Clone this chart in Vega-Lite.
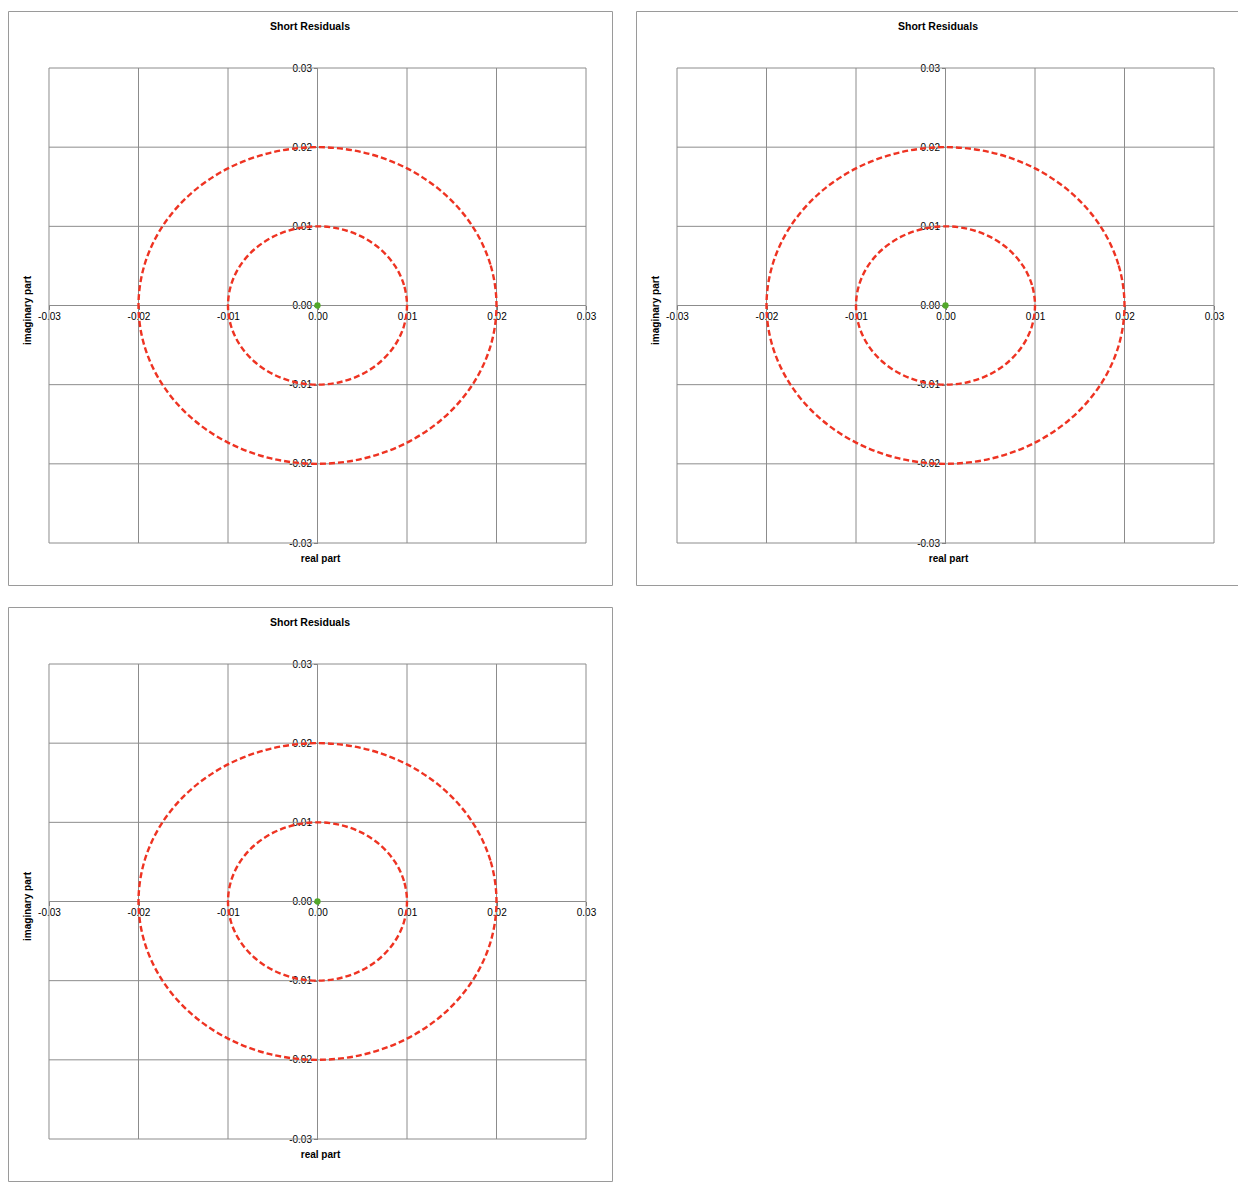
{
  "$schema": "https://vega.github.io/schema/vega-lite/v6.json",
  "padding": {"left": 7, "top": 10, "right": 0, "bottom": 0},
  "background": "white",
  "datasets": {
    "grid": [{"v": -0.03}, {"v": -0.02}, {"v": -0.01}, {"v": 0}, {"v": 0.01}, {"v": 0.02}, {"v": 0.03}],
    "origin": [{"re": 0, "im": 0}],
    "circles": [
      {"c": "inner", "i": 0, "re": 0.01, "im": 0},
      {"c": "inner", "i": 1, "re": 0.0096593, "im": 0.0025882},
      {"c": "inner", "i": 2, "re": 0.0086603, "im": 0.005},
      {"c": "inner", "i": 3, "re": 0.0070711, "im": 0.0070711},
      {"c": "inner", "i": 4, "re": 0.005, "im": 0.0086603},
      {"c": "inner", "i": 5, "re": 0.0025882, "im": 0.0096593},
      {"c": "inner", "i": 6, "re": 0, "im": 0.01},
      {"c": "inner", "i": 7, "re": -0.0025882, "im": 0.0096593},
      {"c": "inner", "i": 8, "re": -0.005, "im": 0.0086603},
      {"c": "inner", "i": 9, "re": -0.0070711, "im": 0.0070711},
      {"c": "inner", "i": 10, "re": -0.0086603, "im": 0.005},
      {"c": "inner", "i": 11, "re": -0.0096593, "im": 0.0025882},
      {"c": "inner", "i": 12, "re": -0.01, "im": 0},
      {"c": "inner", "i": 13, "re": -0.0096593, "im": -0.0025882},
      {"c": "inner", "i": 14, "re": -0.0086603, "im": -0.005},
      {"c": "inner", "i": 15, "re": -0.0070711, "im": -0.0070711},
      {"c": "inner", "i": 16, "re": -0.005, "im": -0.0086603},
      {"c": "inner", "i": 17, "re": -0.0025882, "im": -0.0096593},
      {"c": "inner", "i": 18, "re": 0, "im": -0.01},
      {"c": "inner", "i": 19, "re": 0.0025882, "im": -0.0096593},
      {"c": "inner", "i": 20, "re": 0.005, "im": -0.0086603},
      {"c": "inner", "i": 21, "re": 0.0070711, "im": -0.0070711},
      {"c": "inner", "i": 22, "re": 0.0086603, "im": -0.005},
      {"c": "inner", "i": 23, "re": 0.0096593, "im": -0.0025882},
      {"c": "outer", "i": 0, "re": 0.02, "im": 0},
      {"c": "outer", "i": 1, "re": 0.0193185, "im": 0.0051764},
      {"c": "outer", "i": 2, "re": 0.0173205, "im": 0.01},
      {"c": "outer", "i": 3, "re": 0.0141421, "im": 0.0141421},
      {"c": "outer", "i": 4, "re": 0.01, "im": 0.0173205},
      {"c": "outer", "i": 5, "re": 0.0051764, "im": 0.0193185},
      {"c": "outer", "i": 6, "re": 0, "im": 0.02},
      {"c": "outer", "i": 7, "re": -0.0051764, "im": 0.0193185},
      {"c": "outer", "i": 8, "re": -0.01, "im": 0.0173205},
      {"c": "outer", "i": 9, "re": -0.0141421, "im": 0.0141421},
      {"c": "outer", "i": 10, "re": -0.0173205, "im": 0.01},
      {"c": "outer", "i": 11, "re": -0.0193185, "im": 0.0051764},
      {"c": "outer", "i": 12, "re": -0.02, "im": 0},
      {"c": "outer", "i": 13, "re": -0.0193185, "im": -0.0051764},
      {"c": "outer", "i": 14, "re": -0.0173205, "im": -0.01},
      {"c": "outer", "i": 15, "re": -0.0141421, "im": -0.0141421},
      {"c": "outer", "i": 16, "re": -0.01, "im": -0.0173205},
      {"c": "outer", "i": 17, "re": -0.0051764, "im": -0.0193185},
      {"c": "outer", "i": 18, "re": 0, "im": -0.02},
      {"c": "outer", "i": 19, "re": 0.0051764, "im": -0.0193185},
      {"c": "outer", "i": 20, "re": 0.01, "im": -0.0173205},
      {"c": "outer", "i": 21, "re": 0.0141421, "im": -0.0141421},
      {"c": "outer", "i": 22, "re": 0.0173205, "im": -0.01},
      {"c": "outer", "i": 23, "re": 0.0193185, "im": -0.0051764}
    ]
  },
  "vconcat": [
    {
      "hconcat": [
        {
          "width": 604, "height": 574,
          "title": {"text": "Short Residuals"},
          "layer": [
            {"data": {"name": "grid"}, "mark": {"type": "rule", "color": "#8c8c8c", "strokeWidth": 1},
             "encoding": {"x": {"field": "v", "type": "quantitative", "title": "real part", "axis": {"values": [-0.03, -0.02, -0.01, 0, 0.01, 0.02, 0.03]}, "scale": {"domain": [-0.034581, 0.032905], "nice": false, "zero": false}},
                          "y": {"datum": -0.03, "type": "quantitative", "scale": {"domain": [-0.035305, 0.0372], "nice": false, "zero": false}}, "y2": {"datum": 0.03}}},
            {"data": {"name": "grid"}, "mark": {"type": "rule", "color": "#8c8c8c", "strokeWidth": 1},
             "encoding": {"y": {"field": "v", "type": "quantitative", "title": "imaginary part", "axis": {"values": [-0.03, -0.02, -0.01, 0, 0.01, 0.02, 0.03]}, "scale": {"domain": [-0.035305, 0.0372], "nice": false, "zero": false}},
                          "x": {"datum": -0.03, "type": "quantitative", "scale": {"domain": [-0.034581, 0.032905], "nice": false, "zero": false}}, "x2": {"datum": 0.03}}},
            {"data": {"name": "circles"}, "mark": {"type": "line", "interpolate": "cardinal-closed", "strokeDash": [6, 3], "strokeWidth": 2.4, "color": "#ee3322"},
             "encoding": {"x": {"field": "re", "type": "quantitative", "title": "real part", "axis": {"values": [-0.03, -0.02, -0.01, 0, 0.01, 0.02, 0.03]}, "scale": {"domain": [-0.034581, 0.032905], "nice": false, "zero": false}},
                          "y": {"field": "im", "type": "quantitative", "title": "imaginary part", "axis": {"values": [-0.03, -0.02, -0.01, 0, 0.01, 0.02, 0.03]}, "scale": {"domain": [-0.035305, 0.0372], "nice": false, "zero": false}},
                          "detail": {"field": "c"}, "order": {"field": "i", "type": "quantitative"}}},
            {"data": {"name": "origin"}, "mark": {"type": "point", "filled": true, "size": 40, "color": "#52a82a", "opacity": 1},
             "encoding": {"x": {"field": "re", "type": "quantitative", "title": "real part", "axis": {"values": [-0.03, -0.02, -0.01, 0, 0.01, 0.02, 0.03]}, "scale": {"domain": [-0.034581, 0.032905], "nice": false, "zero": false}},
                          "y": {"field": "im", "type": "quantitative", "title": "imaginary part", "axis": {"values": [-0.03, -0.02, -0.01, 0, 0.01, 0.02, 0.03]}, "scale": {"domain": [-0.035305, 0.0372], "nice": false, "zero": false}}}}
          ]
        },
        {
          "width": 604, "height": 574,
          "title": {"text": "Short Residuals"},
          "layer": [
            {"data": {"name": "grid"}, "mark": {"type": "rule", "color": "#8c8c8c", "strokeWidth": 1},
             "encoding": {"x": {"field": "v", "type": "quantitative", "title": "real part", "axis": {"values": [-0.03, -0.02, -0.01, 0, 0.01, 0.02, 0.03]}, "scale": {"domain": [-0.034581, 0.032905], "nice": false, "zero": false}},
                          "y": {"datum": -0.03, "type": "quantitative", "scale": {"domain": [-0.035305, 0.0372], "nice": false, "zero": false}}, "y2": {"datum": 0.03}}},
            {"data": {"name": "grid"}, "mark": {"type": "rule", "color": "#8c8c8c", "strokeWidth": 1},
             "encoding": {"y": {"field": "v", "type": "quantitative", "title": "imaginary part", "axis": {"values": [-0.03, -0.02, -0.01, 0, 0.01, 0.02, 0.03]}, "scale": {"domain": [-0.035305, 0.0372], "nice": false, "zero": false}},
                          "x": {"datum": -0.03, "type": "quantitative", "scale": {"domain": [-0.034581, 0.032905], "nice": false, "zero": false}}, "x2": {"datum": 0.03}}},
            {"data": {"name": "circles"}, "mark": {"type": "line", "interpolate": "cardinal-closed", "strokeDash": [6, 3], "strokeWidth": 2.4, "color": "#ee3322"},
             "encoding": {"x": {"field": "re", "type": "quantitative", "title": "real part", "axis": {"values": [-0.03, -0.02, -0.01, 0, 0.01, 0.02, 0.03]}, "scale": {"domain": [-0.034581, 0.032905], "nice": false, "zero": false}},
                          "y": {"field": "im", "type": "quantitative", "title": "imaginary part", "axis": {"values": [-0.03, -0.02, -0.01, 0, 0.01, 0.02, 0.03]}, "scale": {"domain": [-0.035305, 0.0372], "nice": false, "zero": false}},
                          "detail": {"field": "c"}, "order": {"field": "i", "type": "quantitative"}}},
            {"data": {"name": "origin"}, "mark": {"type": "point", "filled": true, "size": 40, "color": "#52a82a", "opacity": 1},
             "encoding": {"x": {"field": "re", "type": "quantitative", "title": "real part", "axis": {"values": [-0.03, -0.02, -0.01, 0, 0.01, 0.02, 0.03]}, "scale": {"domain": [-0.034581, 0.032905], "nice": false, "zero": false}},
                          "y": {"field": "im", "type": "quantitative", "title": "imaginary part", "axis": {"values": [-0.03, -0.02, -0.01, 0, 0.01, 0.02, 0.03]}, "scale": {"domain": [-0.035305, 0.0372], "nice": false, "zero": false}}}}
          ]
        }
      ]
    },
    {
      "width": 604, "height": 574,
      "title": {"text": "Short Residuals"},
      "layer": [
        {"data": {"name": "grid"}, "mark": {"type": "rule", "color": "#8c8c8c", "strokeWidth": 1},
         "encoding": {"x": {"field": "v", "type": "quantitative", "title": "real part", "axis": {"values": [-0.03, -0.02, -0.01, 0, 0.01, 0.02, 0.03]}, "scale": {"domain": [-0.034581, 0.032905], "nice": false, "zero": false}},
                      "y": {"datum": -0.03, "type": "quantitative", "scale": {"domain": [-0.035305, 0.0372], "nice": false, "zero": false}}, "y2": {"datum": 0.03}}},
        {"data": {"name": "grid"}, "mark": {"type": "rule", "color": "#8c8c8c", "strokeWidth": 1},
         "encoding": {"y": {"field": "v", "type": "quantitative", "title": "imaginary part", "axis": {"values": [-0.03, -0.02, -0.01, 0, 0.01, 0.02, 0.03]}, "scale": {"domain": [-0.035305, 0.0372], "nice": false, "zero": false}},
                      "x": {"datum": -0.03, "type": "quantitative", "scale": {"domain": [-0.034581, 0.032905], "nice": false, "zero": false}}, "x2": {"datum": 0.03}}},
        {"data": {"name": "circles"}, "mark": {"type": "line", "interpolate": "cardinal-closed", "strokeDash": [6, 3], "strokeWidth": 2.4, "color": "#ee3322"},
         "encoding": {"x": {"field": "re", "type": "quantitative", "title": "real part", "axis": {"values": [-0.03, -0.02, -0.01, 0, 0.01, 0.02, 0.03]}, "scale": {"domain": [-0.034581, 0.032905], "nice": false, "zero": false}},
                      "y": {"field": "im", "type": "quantitative", "title": "imaginary part", "axis": {"values": [-0.03, -0.02, -0.01, 0, 0.01, 0.02, 0.03]}, "scale": {"domain": [-0.035305, 0.0372], "nice": false, "zero": false}},
                      "detail": {"field": "c"}, "order": {"field": "i", "type": "quantitative"}}},
        {"data": {"name": "origin"}, "mark": {"type": "point", "filled": true, "size": 40, "color": "#52a82a", "opacity": 1},
         "encoding": {"x": {"field": "re", "type": "quantitative", "title": "real part", "axis": {"values": [-0.03, -0.02, -0.01, 0, 0.01, 0.02, 0.03]}, "scale": {"domain": [-0.034581, 0.032905], "nice": false, "zero": false}},
                      "y": {"field": "im", "type": "quantitative", "title": "imaginary part", "axis": {"values": [-0.03, -0.02, -0.01, 0, 0.01, 0.02, 0.03]}, "scale": {"domain": [-0.035305, 0.0372], "nice": false, "zero": false}}}}
      ]
    }
  ],
  "spacing": 20,
  "config": {
    "locale": {"number": {"decimal": ".", "thousands": ",", "grouping": [3], "currency": ["$", ""], "minus": "-"}},
    "concat": {"spacing": 22},
    "view": {"stroke": "#9a9a9a", "strokeWidth": 1},
    "title": {"font": "Liberation Sans", "fontSize": 10.5, "fontWeight": "bold", "color": "#000000", "anchor": "middle", "frame": "group", "baseline": "middle", "offset": 0, "dy": 25},
    "axis": {"labelFont": "Liberation Sans", "labelFontSize": 10, "labelColor": "#000000", "titleFont": "Liberation Sans", "titleFontSize": 10, "titleFontWeight": "bold", "titleColor": "#000000",
             "grid": false, "domain": false, "tickSize": 4, "tickColor": "#777777", "labelFlush": false, "labelOverlap": false, "labelBound": false, "format": ".2f"},
    "axisX": {"offset": -279.5, "labelPadding": 2, "titleX": 312, "titleY": 253, "titleBaseline": "middle", "titleAlign": "center"},
    "axisY": {"offset": -309.5, "labelPadding": 2, "titleX": -290, "titleY": 299, "titleBaseline": "middle", "titleAlign": "center", "titleAngle": -90}
  }
}
